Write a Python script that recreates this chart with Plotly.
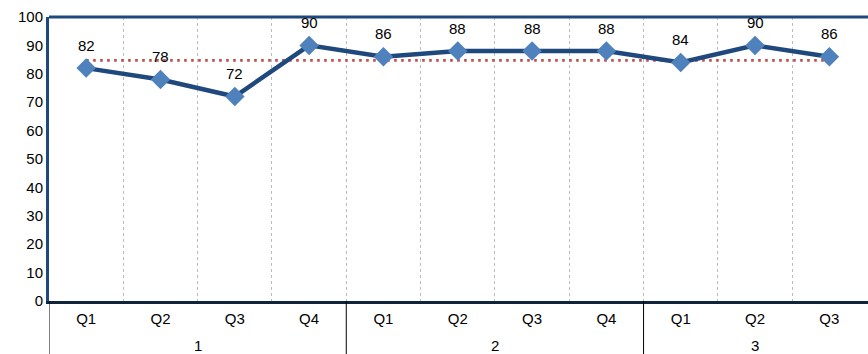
import plotly.graph_objects as go

# Quarterly scores grouped by period
groups = ["1", "1", "1", "1", "2", "2", "2", "2", "3", "3", "3"]
quarters = ["Q1", "Q2", "Q3", "Q4", "Q1", "Q2", "Q3", "Q4", "Q1", "Q2", "Q3"]
scores = [82, 78, 72, 90, 86, 88, 88, 88, 84, 90, 86]
y_ticks = [0, 10, 20, 30, 40, 50, 60, 70, 80, 90, 100]

average = sum(scores) / len(scores)
average_line = [average] * len(scores)

FONT = "Liberation Sans, Arial, sans-serif"

# slot index of each quarter along the x axis
pos = list(range(len(quarters)))
boundaries = [p + 0.5 for p in pos[:-1]]

# group extents: first / last slot per group label
group_names = []
group_span = {}
for p, g in zip(pos, groups):
    if g not in group_span:
        group_names.append(g)
        group_span[g] = [p, p]
    group_span[g][1] = p

fig = go.Figure()

fig.add_trace(go.Scatter(
    x=pos, y=average_line, mode="lines",
    line=dict(color="#C0504D", width=2.6, dash="2.6px,4.4px"),
    hoverinfo="skip", showlegend=False,
))

fig.add_trace(go.Scatter(
    x=pos, y=scores, mode="lines+markers",
    line=dict(color="#1F497D", width=4.5),
    marker=dict(symbol="diamond", size=15, color="#4F81BD",
                line=dict(color="#4F81BD", width=0)),
    showlegend=False,
))

# value labels above each point
for p, v in zip(pos, scores):
    fig.add_annotation(x=p, y=v, text=str(v), showarrow=False,
                       yshift=23, font=dict(family=FONT, size=15, color="#000000"))

# period labels beneath the quarter labels
for g in group_names:
    a, b = group_span[g]
    fig.add_annotation(x=(a + b) / 2, xref="x", y=-0.155, yref="paper",
                       text=g, showarrow=False, yanchor="middle",
                       font=dict(family=FONT, size=15, color="#000000"))

# separators between periods, running below the axis
for g in group_names:
    a = group_span[g][0] - 0.5
    fig.add_shape(type="line", xref="x", yref="paper", x0=a, x1=a, y0=0, y1=-0.2,
                  line=dict(color="#000000", width=1))

# top border of the plot frame
fig.add_shape(type="line", xref="paper", yref="paper", x0=0, x1=1, y0=1, y1=1,
              line=dict(color="#1F497D", width=3))

fig.update_layout(
    width=868, height=354,
    margin=dict(l=49, r=0, t=17, b=53),
    paper_bgcolor="white", plot_bgcolor="white",
    font=dict(family=FONT, size=15, color="#000000"),
)

fig.update_xaxes(
    range=[-0.5, len(pos) - 0.48],
    tickmode="array", tickvals=pos, ticktext=quarters,
    ticks="", showgrid=False, zeroline=False,
    showline=True, linecolor="#0F243E", linewidth=3,
    ticklabelstandoff=2,
    minor=dict(tickmode="array", tickvals=boundaries, showgrid=True,
               gridcolor="#BDBDBD", griddash="dot", gridwidth=1, ticks=""),
    tickfont=dict(family=FONT, size=15, color="#000000"),
)

fig.update_yaxes(
    range=[0, 100], tickmode="array", tickvals=y_ticks,
    showgrid=False, zeroline=False,
    showline=True, linecolor="#1F497D", linewidth=3,
    ticks="",
    tickfont=dict(family=FONT, size=15, color="#000000"),
)

fig.write_html("out.html")
